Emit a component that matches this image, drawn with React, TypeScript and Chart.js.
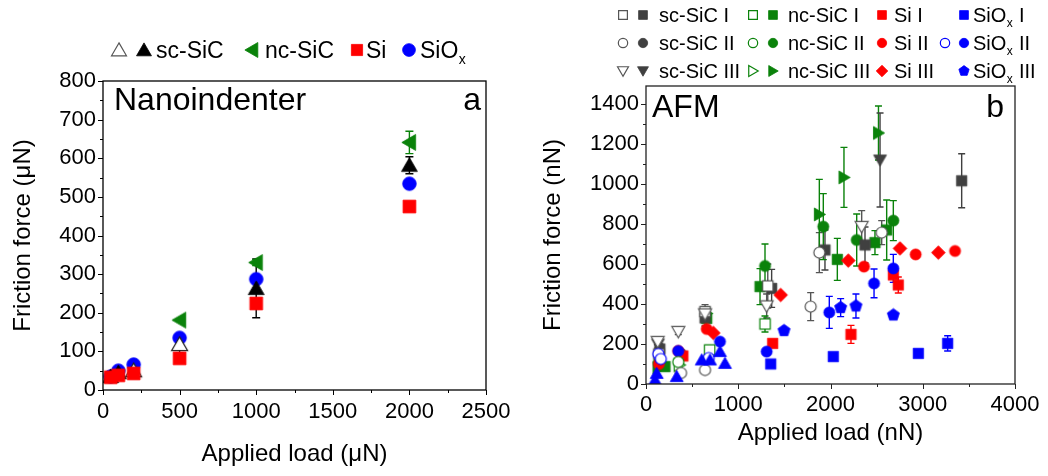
import React, { useEffect, useRef } from 'react';
import { Chart, registerables } from 'chart.js';

Chart.register(...registerables);

const FONT = '"Liberation Sans", Arial, Helvetica, sans-serif';

// ---------------- Panel a : Nanoindenter (μN) ----------------
const aXTicks = [0, 500, 1000, 1500, 2000, 2500];
const aYTicks = [0, 100, 200, 300, 400, 500, 600, 700, 800];
// [load, friction, error]
const aScSiCFilled = [[50, 35, 4], [100, 45, 5], [1000, 263, 76], [2000, 582, 22]];
const aScSiCOpen = [[200, 50, 4], [500, 118, 22]];
const aNcSiC = [[500, 181, 0], [1000, 330, 8], [2000, 641, 29]];
const aSi = [[50, 33, 0], [100, 38, 0], [200, 43, 0], [500, 82, 0], [1000, 224, 0], [2000, 475, 0]];
const aSiOx = [[50, 35, 0], [100, 50, 0], [200, 66, 0], [500, 135, 10], [1000, 287, 8], [2000, 534, 6]];

// ---------------- Panel b : AFM (nN) ----------------
const bXTicks = [0, 1000, 2000, 3000, 4000];
const bYTicks = [0, 200, 400, 600, 800, 1000, 1200, 1400];
const bScSiC_I_f = [[150, 175, 25], [640, 330, 40], [1362, 478, 95], [1940, 670, 100], [2374, 695, 90], [3422, 1016, 135]];
const bScSiC_I_o = [[140, 150, 20], [640, 362, 35], [1320, 490, 110]];
const bScSiC_II_f = [[380, 150, 20]];
const bScSiC_II_o = [[380, 55, 15], [640, 70, 15], [1785, 387, 70], [1879, 657, 100], [2555, 757, 60]];
const bScSiC_III_f = [[130, 200, 20], [2537, 1120, 235]];
const bScSiC_III_o = [[127, 212, 15], [350, 262, 15], [640, 350, 30], [1308, 390, 60], [2338, 787, 80]];
const bNcSiC_I_f = [[206, 87, 20], [658, 328, 50], [1236, 487, 90], [2074, 623, 105], [2482, 707, 60], [2609, 770, 150]];
const bNcSiC_I_o = [[690, 170, 20], [1290, 300, 40]];
const bNcSiC_II_f = [[140, 110, 20], [1290, 590, 110], [1922, 787, 165], [2284, 720, 130], [2681, 817, 100]];
const bNcSiC_II_o = [[350, 110, 15]];
const bNcSiC_III_f = [[130, 80, 15], [658, 353, 30], [1879, 848, 175], [2146, 1033, 150], [2520, 1255, 135]];
const bNcSiC_III_o = [[360, 95, 15]];
const bSi_I = [[400, 140, 0], [1373, 203, 0], [2222, 248, 45], [2681, 545, 0], [2735, 495, 40]];
const bSi_II = [[140, 100, 0], [350, 165, 0], [658, 275, 0], [2363, 587, 0], [2923, 648, 0], [3350, 665, 0]];
const bSi_III = [[730, 255, 0], [1460, 445, 0], [2193, 617, 0], [2753, 678, 0], [3169, 657, 0]];
const bSiOx_I = [[1352, 100, 0], [2030, 137, 0], [2952, 153, 0], [3270, 203, 38]];
const bSiOx_II_f = [[350, 165, 0], [802, 212, 0], [1308, 162, 0], [1987, 358, 80], [2472, 503, 72], [2681, 578, 70]];
const bSiOx_II_o = [[134, 150, 0], [160, 125, 0], [680, 130, 0]];
const bSiOx_III = [[1496, 267, 0], [2110, 382, 45], [2276, 390, 60], [2681, 345, 0]];
const bSiOxTri = [[98, 20, 0], [116, 53, 0], [333, 37, 0], [604, 120, 0], [694, 120, 0], [802, 162, 0], [856, 103, 0]];

const BLACK = '#000000';
const DARK = '#404040';
const GREEN = '#0a820a';
const RED = '#ff0000';
const BLUE = '#0000ff';

type Shape = 'square' | 'circle' | 'triUp' | 'triDown' | 'triLeft' | 'triRight' | 'diamond' | 'pentagon';

function pathMarker(ctx: CanvasRenderingContext2D, shape: Shape, cx: number, cy: number, s: number) {
  ctx.beginPath();
  const poly = (n: number, r: number, rot: number, dx = 0, dy = 0) => {
    for (let i = 0; i < n; i++) {
      const a = rot + (i * 2 * Math.PI) / n;
      const px = cx + dx + r * Math.cos(a);
      const py = cy + dy + r * Math.sin(a);
      if (i) ctx.lineTo(px, py);
      else ctx.moveTo(px, py);
    }
    ctx.closePath();
  };
  switch (shape) {
    case 'square': ctx.rect(cx - s * 0.8, cy - s * 0.8, s * 1.6, s * 1.6); break;
    case 'circle': ctx.arc(cx, cy, s * 0.85, 0, 2 * Math.PI); break;
    case 'triUp': poly(3, s * 1.15, -Math.PI / 2, 0, s * 0.2); break;
    case 'triDown': poly(3, s * 1.15, Math.PI / 2, 0, -s * 0.2); break;
    case 'triLeft': poly(3, s * 1.15, Math.PI, s * 0.2, 0); break;
    case 'triRight': poly(3, s * 1.15, 0, -s * 0.2, 0); break;
    case 'diamond': poly(4, s * 1.05, -Math.PI / 2); break;
    case 'pentagon': poly(5, s * 0.98, -Math.PI / 2); break;
  }
}

function paintMarker(ctx: CanvasRenderingContext2D, shape: Shape, cx: number, cy: number, s: number, color: string, open: boolean) {
  pathMarker(ctx, shape, cx, cy, s);
  if (open) {
    ctx.fillStyle = '#ffffff';
    ctx.fill();
    ctx.strokeStyle = color;
    ctx.lineWidth = 1.2;
    ctx.stroke();
  } else {
    ctx.fillStyle = color;
    ctx.fill();
    ctx.strokeStyle = color;
    ctx.lineWidth = 0.8;
    ctx.stroke();
  }
}

function makeMarker(shape: Shape, s: number, color: string, open: boolean) {
  const size = Math.ceil(2 * s * 1.3 + 4);
  const c = document.createElement('canvas');
  c.width = size;
  c.height = size;
  const ctx = c.getContext('2d')!;
  paintMarker(ctx, shape, size / 2, size / 2, s, color, open);
  return c;
}

interface SeriesSpec { pts: number[][]; shape: Shape; color: string; open: boolean }

function buildDatasets(list: SeriesSpec[], s: number) {
  return list.map((sp) => ({
    data: sp.pts.map((p) => ({ x: p[0], y: p[1] })),
    errs: sp.pts.map((p) => p[2]),
    errColor: sp.color,
    pointStyle: makeMarker(sp.shape, s, sp.color, sp.open),
    pointRadius: s,
    showLine: false,
  }));
}

function makeErrorBarPlugin(cap: number) {
  return {
    id: 'errbars',
    beforeDatasetsDraw(chart: any) {
      const { ctx, chartArea, scales } = chart;
      const x = scales.x;
      const y = scales.y;
      ctx.save();
      ctx.beginPath();
      ctx.rect(chartArea.left, chartArea.top, chartArea.right - chartArea.left, chartArea.bottom - chartArea.top);
      ctx.clip();
      chart.data.datasets.forEach((ds: any) => {
        const errs = ds.errs || [];
        ds.data.forEach((p: any, i: number) => {
          const e = errs[i];
          if (!e) return;
          const px = x.getPixelForValue(p.x);
          const y1 = y.getPixelForValue(p.y + e);
          const y2 = y.getPixelForValue(p.y - e);
          ctx.strokeStyle = ds.errColor;
          ctx.lineWidth = 1.4;
          ctx.beginPath();
          ctx.moveTo(px, y1); ctx.lineTo(px, y2);
          ctx.moveTo(px - cap, y1); ctx.lineTo(px + cap, y1);
          ctx.moveTo(px - cap, y2); ctx.lineTo(px + cap, y2);
          ctx.stroke();
        });
      });
      ctx.restore();
    },
  };
}

function makeFramePlugin(xMinor: number, xMajor: number, yMinor: number, yMajor: number, color: string) {
  return {
    id: 'frame',
    afterDraw(chart: any) {
      const { ctx, chartArea, scales } = chart;
      const { left, right, top, bottom } = chartArea;
      const x = scales.x;
      const y = scales.y;
      ctx.save();
      ctx.strokeStyle = color;
      ctx.lineWidth = 1.3;
      ctx.strokeRect(left, top, right - left, bottom - top);
      ctx.lineWidth = 1;
      ctx.beginPath();
      for (let v = x.min; v <= x.max + 1e-6; v += xMinor) {
        const px = Math.round(x.getPixelForValue(v)) + 0.5;
        const major = Math.abs(v / xMajor - Math.round(v / xMajor)) < 1e-6;
        ctx.moveTo(px, bottom);
        ctx.lineTo(px, bottom + (major ? 5 : 3));
      }
      for (let v = y.min; v <= y.max + 1e-6; v += yMinor) {
        const py = Math.round(y.getPixelForValue(v)) + 0.5;
        const major = Math.abs(v / yMajor - Math.round(v / yMajor)) < 1e-6;
        ctx.moveTo(left, py);
        ctx.lineTo(left - (major ? 5 : 3), py);
      }
      ctx.stroke();
      ctx.restore();
    },
  };
}

function drawSiOx(ctx: CanvasRenderingContext2D, x: number, y: number, size: number, suffix: string) {
  ctx.font = `${size}px ${FONT}`;
  ctx.fillText('SiO', x, y);
  const w = ctx.measureText('SiO').width;
  ctx.font = `${Math.round(size * 0.62)}px ${FONT}`;
  ctx.fillText('x', x + w + 0.5, y + size * 0.24);
  const wx = ctx.measureText('x').width;
  if (suffix) {
    ctx.font = `${size}px ${FONT}`;
    ctx.fillText(suffix, x + w + wx + 1, y);
  }
}

const legendAPlugin = {
  id: 'legendA',
  afterDraw(chart: any) {
    const ctx: CanvasRenderingContext2D = chart.ctx;
    ctx.save();
    const cy = 50;
    const base = 58;
    const fs = 23;
    paintMarker(ctx, 'triUp', 119, cy, 7.5, '#555555', true);
    paintMarker(ctx, 'triUp', 144, cy, 7.5, BLACK, false);
    ctx.fillStyle = '#000';
    ctx.textBaseline = 'alphabetic';
    ctx.font = `${fs}px ${FONT}`;
    ctx.fillText('sc-SiC', 156, base);
    paintMarker(ctx, 'triLeft', 252, cy, 7.5, GREEN, false);
    ctx.fillStyle = '#000';
    ctx.font = `${fs}px ${FONT}`;
    ctx.fillText('nc-SiC', 265, base);
    paintMarker(ctx, 'square', 357, cy, 7, RED, false);
    ctx.fillStyle = '#000';
    ctx.font = `${fs}px ${FONT}`;
    ctx.fillText('Si', 366, base);
    paintMarker(ctx, 'circle', 409, cy, 7.5, BLUE, false);
    ctx.fillStyle = '#000';
    drawSiOx(ctx, 420, base, fs, '');
    ctx.restore();
  },
};

const legendBPlugin = {
  id: 'legendB',
  afterDraw(chart: any) {
    const ctx: CanvasRenderingContext2D = chart.ctx;
    const ox = -524;
    const rows = [15, 43, 71];
    const fs = 20;
    const s = 5.5;
    const romans = ['I', 'II', 'III'];
    const scShapes: Shape[] = ['square', 'circle', 'triDown'];
    const ncShapes: Shape[] = ['square', 'circle', 'triRight'];
    const siShapes: Shape[] = ['square', 'circle', 'diamond'];
    const oxShapes: Shape[] = ['square', 'circle', 'pentagon'];
    ctx.save();
    rows.forEach((cy, i) => {
      const base = cy + 7;
      paintMarker(ctx, scShapes[i], 623 + ox, cy, s, '#555555', true);
      paintMarker(ctx, scShapes[i], 643 + ox, cy, s, DARK, false);
      ctx.fillStyle = '#000';
      ctx.font = `${fs}px ${FONT}`;
      ctx.fillText(`sc-SiC ${romans[i]}`, 659 + ox, base);
      paintMarker(ctx, ncShapes[i], 753 + ox, cy, s, GREEN, true);
      paintMarker(ctx, ncShapes[i], 773 + ox, cy, s, GREEN, false);
      ctx.fillStyle = '#000';
      ctx.font = `${fs}px ${FONT}`;
      ctx.fillText(`nc-SiC ${romans[i]}`, 788 + ox, base);
      paintMarker(ctx, siShapes[i], 882 + ox, cy, s, RED, false);
      ctx.fillStyle = '#000';
      ctx.font = `${fs}px ${FONT}`;
      ctx.fillText(`Si ${romans[i]}`, 894 + ox, base);
      if (i === 1) paintMarker(ctx, 'circle', 945 + ox, cy, s, BLUE, true);
      paintMarker(ctx, oxShapes[i], 964 + ox, cy, s, BLUE, false);
      ctx.fillStyle = '#000';
      drawSiOx(ctx, 973 + ox, base, fs, ` ${romans[i]}`);
    });
    ctx.restore();
  },
};

function makeLabelPlugin(title: string, tx: number, letter: string, lx: number, base: number) {
  return {
    id: 'panelLabels',
    afterDraw(chart: any) {
      const ctx: CanvasRenderingContext2D = chart.ctx;
      ctx.save();
      ctx.fillStyle = '#000';
      ctx.font = `32px ${FONT}`;
      ctx.textBaseline = 'alphabetic';
      ctx.textAlign = 'left';
      ctx.fillText(title, tx, base);
      ctx.textAlign = 'right';
      ctx.fillText(letter, lx, base);
      ctx.restore();
    },
  };
}

function axisCommon(min: number, max: number, tickVals: number[], fitSize: number, isX: boolean, title: string, titlePad: number, tickPad: number) {
  return {
    type: 'linear',
    min,
    max,
    afterBuildTicks: (s: any) => { s.ticks = tickVals.map((v) => ({ value: v })); },
    afterFit: (s: any) => { if (isX) s.height = fitSize; else s.width = fitSize; },
    grid: { display: false, drawTicks: false },
    border: { display: false },
    ticks: {
      font: { family: FONT, size: 22 },
      color: '#000',
      padding: tickPad,
      maxRotation: 0,
      autoSkip: false,
      callback: (v: any) => String(v),
    },
    title: {
      display: true,
      text: title,
      color: '#000',
      font: { family: FONT, size: 24 },
      padding: isX ? { top: 0, bottom: titlePad } : { top: titlePad, bottom: 0 },
    },
  };
}

function configA(): any {
  const datasets = buildDatasets([
    { pts: aSi, shape: 'square', color: RED, open: false },
    { pts: aScSiCOpen, shape: 'triUp', color: '#222222', open: true },
    { pts: aScSiCFilled, shape: 'triUp', color: BLACK, open: false },
    { pts: aNcSiC, shape: 'triLeft', color: GREEN, open: false },
    { pts: aSiOx, shape: 'circle', color: BLUE, open: false },
  ], 8);
  return {
    type: 'scatter',
    data: { datasets },
    options: {
      responsive: false,
      animation: false,
      events: [],
      layout: { padding: { left: 0, right: 38, top: 81, bottom: 0 } },
      plugins: { legend: { display: false }, tooltip: { enabled: false } },
      scales: {
        x: axisCommon(0, 2500, aXTicks, 86, true, 'Applied load (μN)', 7, 9),
        y: axisCommon(0, 800, aYTicks, 103, false, 'Friction force (μN)', 9, 7),
      },
    },
    plugins: [makeErrorBarPlugin(4), makeFramePlugin(250, 500, 50, 100, '#000'), legendAPlugin, makeLabelPlugin('Nanoindenter', 114, 'a', 481, 110)],
  };
}

function configB(): any {
  const datasets = buildDatasets([
    { pts: bSiOxTri, shape: 'triUp', color: BLUE, open: false },
    { pts: bSiOx_II_o, shape: 'circle', color: BLUE, open: true },
    { pts: bScSiC_III_o, shape: 'triDown', color: '#555555', open: true },
    { pts: bScSiC_II_o, shape: 'circle', color: '#555555', open: true },
    { pts: bScSiC_I_o, shape: 'square', color: '#555555', open: true },
    { pts: bNcSiC_I_o, shape: 'square', color: GREEN, open: true },
    { pts: bNcSiC_II_o, shape: 'circle', color: GREEN, open: true },
    { pts: bNcSiC_III_o, shape: 'triRight', color: GREEN, open: true },
    { pts: bSiOx_I, shape: 'square', color: BLUE, open: false },
    { pts: bSiOx_III, shape: 'pentagon', color: BLUE, open: false },
    { pts: bSiOx_II_f, shape: 'circle', color: BLUE, open: false },
    { pts: bSi_I, shape: 'square', color: RED, open: false },
    { pts: bSi_II, shape: 'circle', color: RED, open: false },
    { pts: bSi_III, shape: 'diamond', color: RED, open: false },
    { pts: bScSiC_I_f, shape: 'square', color: DARK, open: false },
    { pts: bScSiC_II_f, shape: 'circle', color: DARK, open: false },
    { pts: bNcSiC_I_f, shape: 'square', color: GREEN, open: false },
    { pts: bNcSiC_II_f, shape: 'circle', color: GREEN, open: false },
    { pts: bNcSiC_III_f, shape: 'triRight', color: GREEN, open: false },
    { pts: bScSiC_III_f, shape: 'triDown', color: DARK, open: false },
  ], 6.5);
  return {
    type: 'scatter',
    data: { datasets },
    options: {
      responsive: false,
      animation: false,
      events: [],
      layout: { padding: { left: 0, right: 33, top: 86, bottom: 0 } },
      plugins: { legend: { display: false }, tooltip: { enabled: false } },
      scales: {
        x: axisCommon(0, 4000, bXTicks, 92, true, 'Applied load (nN)', 28, 8),
        y: axisCommon(0, 1490, bYTicks, 122, false, 'Friction force (nN)', 15, 7),
      },
    },
    plugins: [makeErrorBarPlugin(3.5), makeFramePlugin(500, 1000, 100, 200, '#222'), legendBPlugin, makeLabelPlugin('AFM', 128, 'b', 480, 117)],
  };
}

function ChartCanvas({ makeConfig, left, width }: { makeConfig: () => any; left: number; width: number }) {
  const ref = useRef<HTMLCanvasElement>(null);
  useEffect(() => {
    const chart = new Chart(ref.current as HTMLCanvasElement, makeConfig());
    return () => chart.destroy();
  }, []);
  return (
    <canvas
      ref={ref}
      width={width}
      height={476}
      style={{ position: 'absolute', left, top: 0, width, height: 476 }}
    />
  );
}

export default function App() {
  return (
    <div style={{ position: 'fixed', left: 0, top: 0, width: 1048, height: 476, background: '#fff', overflow: 'hidden' }}>
      <ChartCanvas makeConfig={configA} left={0} width={524} />
      <ChartCanvas makeConfig={configB} left={524} width={524} />
    </div>
  );
}
